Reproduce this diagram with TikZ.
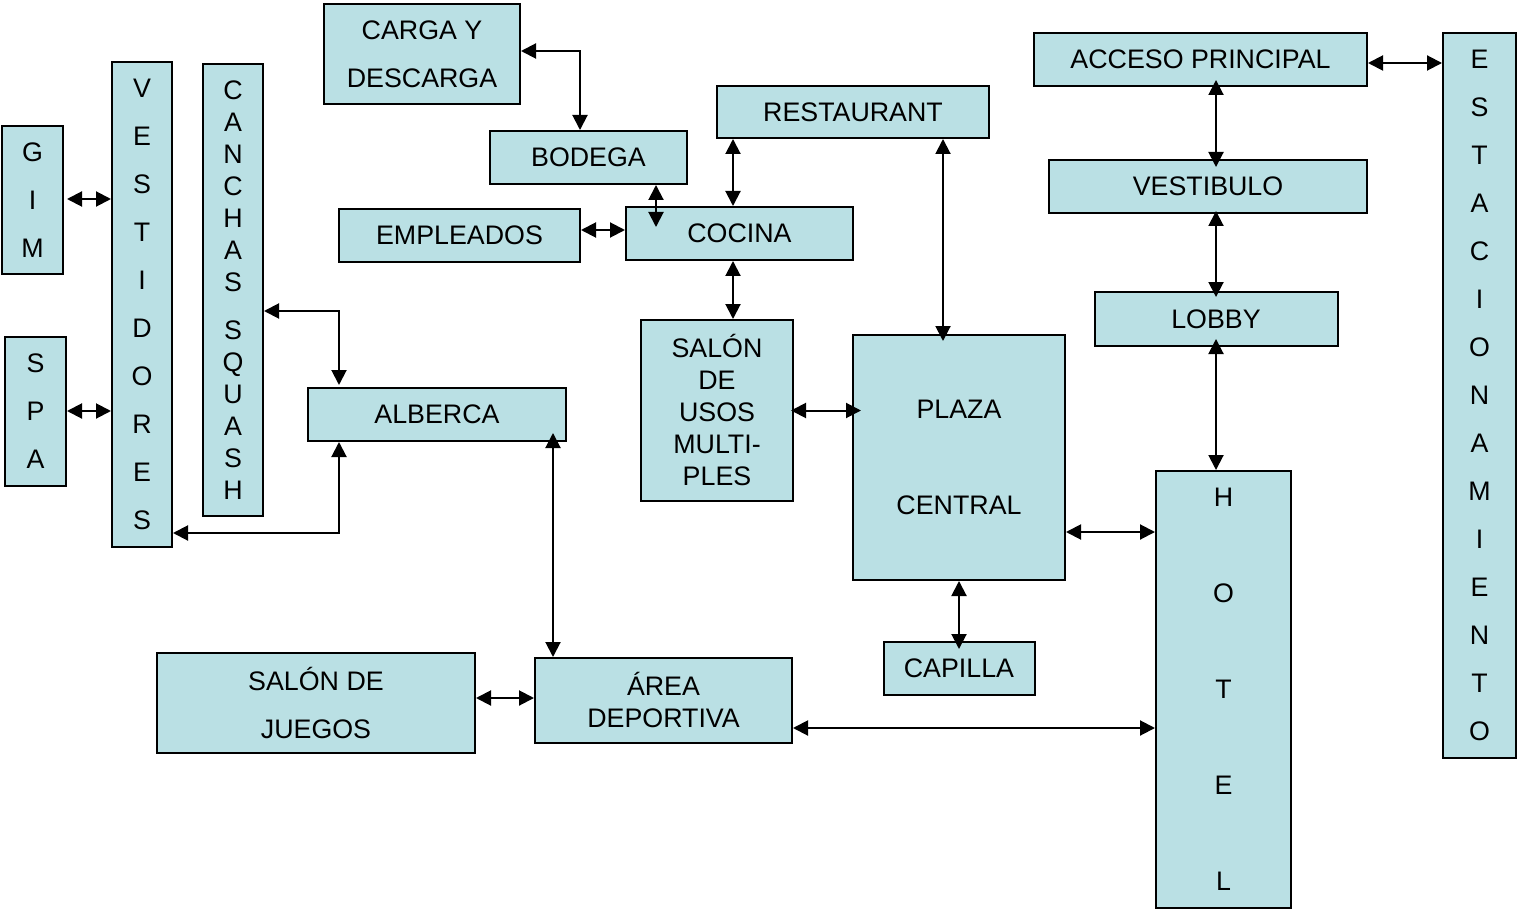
\documentclass[tikz,border=0pt]{standalone}
\usepackage{fontspec}
\setmainfont{Liberation Sans}
\usetikzlibrary{arrows.meta}
\definecolor{roomblue}{RGB}{186,224,228}
\begin{document}
\begin{tikzpicture}[x=1pt,y=-1pt,line join=miter,
  room/.style={draw,fill=roomblue,line width=2pt,inner sep=0pt,align=center,
    font=\fontsize{26.8}{32}\selectfont},
  lines/.style={font=\fontsize{26.8}{#1}\selectfont},
  wh/.style 2 args={minimum width=#1pt,minimum height=#2pt},
  link/.style={line width=2pt,
    {Triangle[length=15pt,width=15pt]}-{Triangle[length=15pt,width=15pt]}}]
\useasboundingbox (0,0) rectangle (1517,909);
% kitchen and service side
\node[room,wh={196}{100},lines=48] (carga) at (422,54) {CARGA Y\\DESCARGA};
\node[room,wh={197}{53}] (bodega) at (588.5,157.5) {BODEGA};
\node[room,wh={241}{53}] (empleados) at (459.5,235.5) {EMPLEADOS};
\node[room,wh={227}{53}] (cocina) at (739.5,233.5) {COCINA};
\node[room,wh={272}{52}] (restaurant) at (853,112) {RESTAURANT};
\node[room,wh={152}{181}] (usos) at (717,410.5) {SALÓN\\DE\\USOS\\MULTI-\\PLES};
\node[room,wh={212}{245},lines=96] (plaza) at (959,457.5) {PLAZA\\CENTRAL};
\node[room,wh={151}{53}] (capilla) at (959,668.5) {CAPILLA};
% sports side
\node[room,wh={257}{85}] (area) at (663.5,700.5) {ÁREA\\DEPORTIVA};
\node[room,wh={318}{100},lines=48] (juegos) at (316,703) {SALÓN DE\\JUEGOS};
\node[room,wh={258}{53}] (alberca) at (437,414.5) {ALBERCA};
\node[room,wh={61}{148},lines=48] (gim) at (32.5,200) {G\\I\\M};
\node[room,wh={61}{149},lines=48] (spa) at (35.5,411) {S\\P\\A};
\node[room,wh={60}{485},lines=48] (vestidores) at (142,304.5)
  {V\\E\\S\\T\\I\\D\\O\\R\\E\\S};
\node[room,wh={60}{452}] (canchas) at (233,290)
  {C\\A\\N\\C\\H\\A\\S\\[16pt]S\\Q\\U\\A\\S\\H};
% entrance side
\node[room,wh={333}{53}] (acceso) at (1200.5,59.5) {ACCESO PRINCIPAL};
\node[room,wh={318}{53}] (vestibulo) at (1208,186.5) {VESTIBULO};
\node[room,wh={243}{54}] (lobby) at (1216,319) {LOBBY};
\node[room,wh={135}{437},lines=96] (hotel) at (1223.5,689.5) {H\\O\\T\\E\\L};
\node[room,wh={73}{725},lines=48] (estac) at (1479.5,395.5)
  {E\\S\\T\\A\\C\\I\\O\\N\\A\\M\\I\\E\\N\\T\\O};
% connections
\draw[link] ([yshift=3pt]carga.east) -| ([xshift=-8.5pt]bodega.north);
\draw[link] ([xshift=67.5pt]bodega.south) -- ([xshift=-83.5pt,yshift=-21pt]cocina.north);
\draw[link] ([yshift=5.5pt]empleados.east) -- ([yshift=3.5pt]cocina.west);
\draw[link] ([xshift=-6.5pt]cocina.north) -- ([xshift=-120pt]restaurant.south);
\draw[link] ([xshift=-6.5pt]cocina.south) -- ([xshift=16pt]usos.north);
\draw[link] ([xshift=90pt]restaurant.south) -- ([xshift=-16pt,yshift=-7pt]plaza.north);
\draw[link] ([xshift=-3pt]usos.east) -- ([xshift=9pt,yshift=47pt]plaza.west);
\draw[link] (plaza.south) -- ([yshift=-8pt]capilla.north);
\draw[link] ([yshift=-74.5pt]plaza.east) -- ([yshift=157.5pt]hotel.west);
\draw[link] ([yshift=8pt]lobby.south) -- ([xshift=-7.5pt]hotel.north);
\draw[link] ([xshift=8pt,yshift=3pt]vestibulo.south) -- ([yshift=-6pt]lobby.north);
\draw[link] ([xshift=15.5pt,yshift=7pt]acceso.south) -- ([xshift=8pt,yshift=-8pt]vestibulo.north);
\draw[link] ([yshift=-3.5pt]acceso.east) -- ([yshift=332.5pt]estac.west);
\draw[link] ([xshift=3pt,yshift=1pt]gim.east) -- ([yshift=105.5pt]vestidores.west);
\draw[link] (spa.east) -- ([yshift=-106.5pt]vestidores.west);
\draw[link] ([yshift=-21pt]canchas.east) -| ([xshift=-98pt,yshift=2pt]alberca.north);
\draw[link] ([yshift=-228.5pt]vestidores.east) -| ([xshift=-98pt]alberca.south);
\draw[link] ([xshift=116pt,yshift=9pt]alberca.south) -- ([xshift=-110.5pt]area.north);
\draw[link] ([yshift=5pt]juegos.east) -- ([yshift=2.5pt]area.west);
\draw[link] ([yshift=-27.5pt]area.east) -- ([yshift=-38.5pt]hotel.west);
\end{tikzpicture}
\end{document}
